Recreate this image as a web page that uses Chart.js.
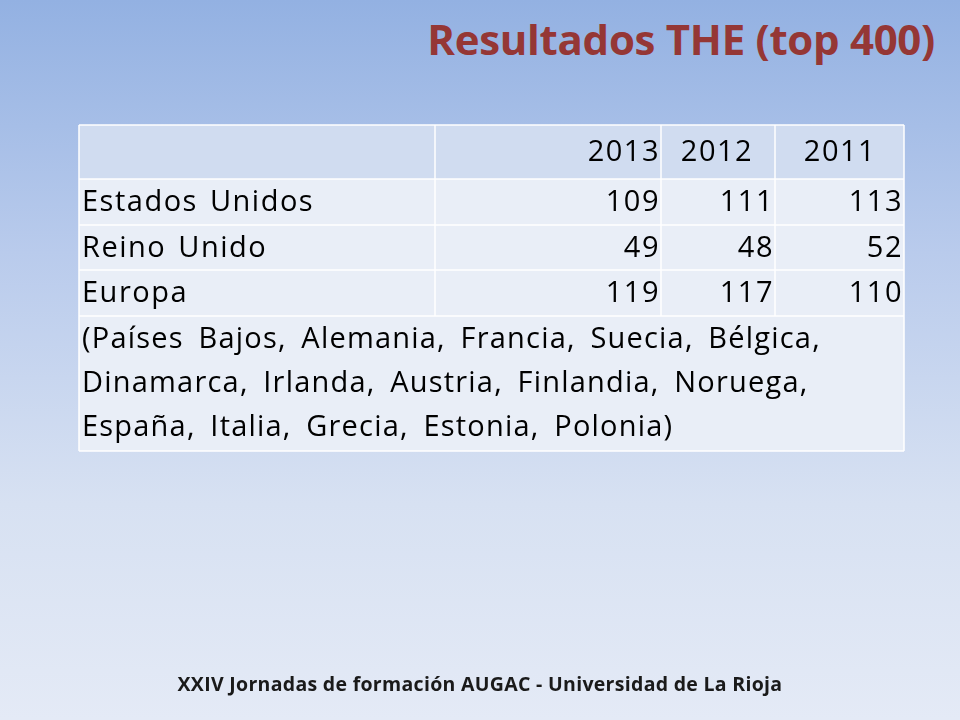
<!DOCTYPE html>
<html><head><meta charset="utf-8">
<script src="https://cdn.jsdelivr.net/npm/chart.js@4"></script>
<style>
html,body{margin:0;padding:0;width:960px;height:720px;overflow:hidden}
body{background:linear-gradient(to bottom,#93b1e2 0%,#b9cbec 35%,#d7e1f2 70%,#e4eaf6 100%)}
#t{position:absolute;right:25px;top:10px;font:bold 42px "Open Sans",sans-serif;color:#953735;letter-spacing:-0.3px}
#f{position:absolute;left:0;width:960px;top:670px;text-align:center;font:bold 19.5px "Open Sans",sans-serif;color:#1a1a1a;letter-spacing:0.3px}
canvas{position:absolute;left:0;top:0}
</style></head><body>
<div id="t">Resultados THE (top 400)</div>
<canvas id="c" width="960" height="720"></canvas>
<div id="f">XXIV Jornadas de formación AUGAC - Universidad de La Rioja</div>
<script>
const years = ["2013","2012","2011"];
const categories = ["Estados Unidos","Reino Unido","Europa"];
const v2013 = [109,49,119];
const v2012 = [111,48,117];
const v2011 = [113,52,110];
const noteLines = ["(Países Bajos, Alemania, Francia, Suecia, Bélgica,","Dinamarca, Irlanda, Austria, Finlandia, Noruega,","España, Italia, Grecia, Estonia, Polonia)"];

const colEdges=[0,356,582,696,825];
const rowEdges=[0,54,100,145,191,326];

const tablePlugin={id:'table',afterDraw(ch){
 const x=ch.scales.x,y=ch.scales.y,ctx=ch.ctx;
 const X=v=>x.getPixelForValue(v),Y=v=>y.getPixelForValue(v);
 ctx.save();
 for(let r=0;r<5;r++){
  ctx.fillStyle=r===0?'#d0dcf0':'#e9eef7';
  if(r===4){ctx.fillRect(X(0),Y(rowEdges[4]),X(825)-X(0),Y(rowEdges[5])-Y(rowEdges[4]));continue;}
  for(let c=0;c<4;c++){ctx.fillRect(X(colEdges[c]),Y(rowEdges[r]),X(colEdges[c+1])-X(colEdges[c]),Y(rowEdges[r+1])-Y(rowEdges[r]));}
 }
 ctx.strokeStyle='#ffffff';ctx.lineWidth=1.5;
 for(let r=0;r<=5;r++){ctx.beginPath();ctx.moveTo(X(0),Y(rowEdges[r]));ctx.lineTo(X(825),Y(rowEdges[r]));ctx.stroke();}
 for(let c=0;c<=4;c++){const bottom=(c===0||c===4)?rowEdges[5]:rowEdges[4];ctx.beginPath();ctx.moveTo(X(colEdges[c]),Y(0));ctx.lineTo(X(colEdges[c]),Y(bottom));ctx.stroke();}
 ctx.fillStyle='#000';ctx.font='29px "Open Sans",sans-serif';ctx.textBaseline='middle';
 ctx.letterSpacing='1.5px';ctx.wordSpacing='3px';
 const mid=r=>Y((rowEdges[r]+rowEdges[r+1])/2)+1;
 ctx.textAlign='right';ctx.fillText(years[0],X(colEdges[2])-1,mid(0));
 ctx.textAlign='center';ctx.fillText(years[1],X(colEdges[2]+56),mid(0));ctx.fillText(years[2],X(colEdges[3]+65),mid(0));
 const cols=[v2013,v2012,v2011];
 categories.forEach((cat,i)=>{
  ctx.textAlign='left';ctx.fillText(cat,X(3),mid(i+1));
  ctx.textAlign='right';
  cols.forEach((arr,j)=>ctx.fillText(String(arr[i]),X(colEdges[j+2])-1,mid(i+1)));
 });
 ctx.textAlign='left';ctx.letterSpacing='1.2px';ctx.wordSpacing='6px';
 noteLines.forEach((l,k)=>ctx.fillText(l,X(3),Y(rowEdges[4]+24+k*44)));
 ctx.restore();
}};
new Chart(document.getElementById('c'),{
 type:'scatter',
 data:{datasets:[{data:[]}]},
 options:{responsive:false,animation:false,
  layout:{padding:{left:79,right:56,top:125,bottom:269}},
  plugins:{legend:{display:false},tooltip:{enabled:false}},
  scales:{x:{type:'linear',min:0,max:825,display:false},
          y:{type:'linear',min:0,max:326,reverse:true,display:false}}},
 plugins:[tablePlugin]
});
</script></body></html>
